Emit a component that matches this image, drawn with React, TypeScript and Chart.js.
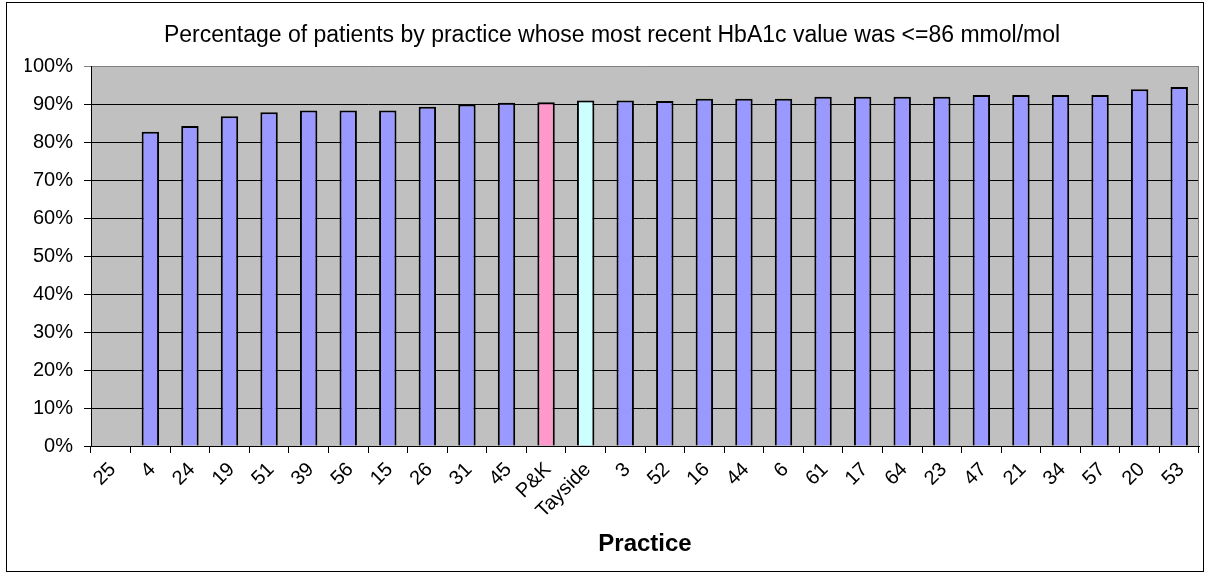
import { useEffect, useRef } from 'react';
import { Chart, registerables } from 'chart.js';

Chart.register(...registerables);

const practices = ['25', '4', '24', '19', '51', '39', '56', '15', '26', '31', '45', 'P&K', 'Tayside', '3', '52', '16', '44', '6', '61', '17', '64', '23', '47', '21', '34', '57', '20', '53'];
const percentages: (number | null)[] = [null, 82.7, 84.2, 86.8, 87.8, 88.3, 88.3, 88.3, 89.3, 89.9, 90.35, 90.45, 90.95, 90.9, 90.8, 91.4, 91.4, 91.4, 91.9, 91.9, 91.9, 91.9, 92.4, 92.4, 92.4, 92.4, 93.9, 94.5];
const yTicks = [0, 10, 20, 30, 40, 50, 60, 70, 80, 90, 100];

const TITLE = 'Percentage of patients by practice whose most recent HbA1c value was <=86 mmol/mol';
const X_TITLE = 'Practice';
const FONT = "'Liberation Sans', Arial, sans-serif";

const barColor = (name: string) => (name === 'P&K' ? '#FF99CC' : name === 'Tayside' ? '#CCFFFF' : '#9999FF');

const plotBg = {
  id: 'plotBg',
  beforeDraw(chart: any) {
    const { ctx, chartArea } = chart;
    const { left, top, right, bottom } = chartArea;
    ctx.save();
    ctx.fillStyle = '#C0C0C0';
    ctx.fillRect(left, top, right - left, bottom - top);
    ctx.restore();
  },
  beforeDatasetsDraw(chart: any) {
    const { ctx, chartArea } = chart;
    const { top, right, bottom } = chartArea;
    ctx.save();
    ctx.strokeStyle = '#808080';
    ctx.lineWidth = 1;
    ctx.beginPath();
    ctx.moveTo(Math.round(right) - 0.5, top);
    ctx.lineTo(Math.round(right) - 0.5, bottom);
    ctx.stroke();
    ctx.restore();
  },
};

export default function App() {
  const ref = useRef<HTMLCanvasElement | null>(null);

  useEffect(() => {
    if (!ref.current) return;
    const chart = new Chart(ref.current, {
      type: 'bar',
      data: {
        labels: practices,
        datasets: [
          {
            data: percentages,
            backgroundColor: practices.map(barColor),
            borderColor: '#000000',
            borderWidth: 2,
            categoryPercentage: 1,
            barPercentage: 0.44,
          },
        ],
      },
      options: {
        animation: false,
        responsive: false,
        layout: { padding: { left: 18, right: 4, top: 0, bottom: 0 } },
        plugins: {
          legend: { display: false },
          tooltip: { enabled: false },
          title: {
            display: true,
            text: TITLE,
            color: '#000',
            font: { family: FONT, size: 23, weight: 'normal' },
            padding: { top: 19, bottom: 16.4 },
          },
        },
        scales: {
          x: {
            afterFit: (scale: any) => {
              scale.height = 125;
            },
            grid: {
              offset: true,
              drawOnChartArea: false,
              drawTicks: true,
              tickLength: 7,
              color: '#000',
            },
            border: { color: '#000', width: 1 },
            ticks: {
              color: '#000',
              font: { family: FONT, size: 20 },
              minRotation: 45,
              maxRotation: 45,
              autoSkip: false,
              padding: 5,
              labelOffset: 2,
            },
            title: {
              display: true,
              text: X_TITLE,
              color: '#000',
              font: { family: FONT, size: 24, weight: 'bold' },
              padding: { top: 0, bottom: 12 },
            },
          },
          y: {
            min: 0,
            max: 100,
            afterFit: (scale: any) => {
              scale.width = 66;
            },
            afterBuildTicks: (scale: any) => {
              scale.ticks = yTicks.map((v) => ({ value: v }));
            },
            grid: {
              color: (c: any) => (c.tick && c.tick.value === 100 ? '#808080' : '#000'),
              lineWidth: 1,
              drawTicks: true,
              tickLength: 7,
            },
            border: { color: '#000', width: 1 },
            ticks: {
              color: '#000',
              font: { family: FONT, size: 20 },
              padding: 11,
              callback: (v: any) => `${v}%`,
            },
          },
        },
      },
      plugins: [plotBg],
    });
    return () => chart.destroy();
  }, []);

  return (
    <div
      style={{
        position: 'absolute',
        left: 6,
        top: 2,
        width: 1198,
        height: 570,
        border: '1px solid #000',
        boxSizing: 'border-box',
        background: '#fff',
      }}
    >
      <canvas ref={ref} width={1196} height={568} style={{ display: 'block', width: 1196, height: 568 }} />
    </div>
  );
}
